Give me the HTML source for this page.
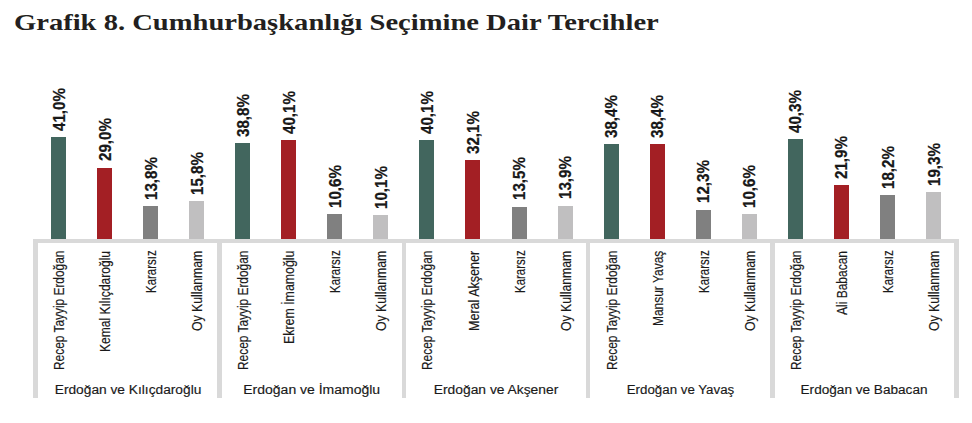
<!DOCTYPE html>
<html><head><meta charset="utf-8"><style>
html,body{margin:0;padding:0;background:#fff;}
body{width:972px;height:423px;position:relative;overflow:hidden;font-family:"Liberation Sans",sans-serif;color:#1a1a1a;}
div{position:absolute;}
.t{left:13.60px;top:9.60px;font-family:"Liberation Serif",serif;font-weight:bold;font-size:24px;color:#231f20;white-space:nowrap;transform-origin:0 0;transform:scaleX(1.19);line-height:1;}
.v{font-weight:bold;font-size:15.0px;white-space:nowrap;transform-origin:0 0;line-height:1;-webkit-text-stroke:0.2px #000;}
.c{font-size:12.2px;white-space:nowrap;transform-origin:0 0;line-height:1;-webkit-text-stroke:0.15px #1a1a1a;}
.g{font-size:12.0px;white-space:nowrap;transform-origin:50% 0;line-height:1;-webkit-text-stroke:0.15px #1a1a1a;}
</style></head><body>
<div class="t">Grafik 8. Cumhurbaşkanlığı Seçimine Dair Tercihler</div>
<div style="left:51.02px;top:137.49px;width:15.00px;height:102.91px;background:#42665e"></div>
<div style="left:97.07px;top:167.61px;width:15.00px;height:72.79px;background:#a31f24"></div>
<div style="left:143.12px;top:205.76px;width:15.00px;height:34.64px;background:#808080"></div>
<div style="left:189.17px;top:200.74px;width:15.00px;height:39.66px;background:#c0bfc0"></div>
<div style="left:235.22px;top:143.01px;width:15.00px;height:97.39px;background:#42665e"></div>
<div style="left:281.27px;top:139.75px;width:15.00px;height:100.65px;background:#a31f24"></div>
<div style="left:327.32px;top:213.79px;width:15.00px;height:26.61px;background:#808080"></div>
<div style="left:373.38px;top:215.05px;width:15.00px;height:25.35px;background:#c0bfc0"></div>
<div style="left:419.42px;top:139.75px;width:15.00px;height:100.65px;background:#42665e"></div>
<div style="left:465.47px;top:159.83px;width:15.00px;height:80.57px;background:#a31f24"></div>
<div style="left:511.52px;top:206.52px;width:15.00px;height:33.88px;background:#808080"></div>
<div style="left:557.57px;top:205.51px;width:15.00px;height:34.89px;background:#c0bfc0"></div>
<div style="left:603.62px;top:144.02px;width:15.00px;height:96.38px;background:#42665e"></div>
<div style="left:649.67px;top:144.02px;width:15.00px;height:96.38px;background:#a31f24"></div>
<div style="left:695.72px;top:209.53px;width:15.00px;height:30.87px;background:#808080"></div>
<div style="left:741.77px;top:213.79px;width:15.00px;height:26.61px;background:#c0bfc0"></div>
<div style="left:787.82px;top:139.25px;width:15.00px;height:101.15px;background:#42665e"></div>
<div style="left:833.88px;top:185.43px;width:15.00px;height:54.97px;background:#a31f24"></div>
<div style="left:879.92px;top:194.72px;width:15.00px;height:45.68px;background:#808080"></div>
<div style="left:925.97px;top:191.96px;width:15.00px;height:48.44px;background:#c0bfc0"></div>
<div style="left:33.25px;top:239.00px;width:925.50px;height:4.00px;background:#d9d9d9"></div>
<div style="left:33.25px;top:239.00px;width:4.50px;height:159.00px;background:#d9d9d9"></div>
<div style="left:217.45px;top:239.00px;width:4.50px;height:159.00px;background:#d9d9d9"></div>
<div style="left:401.65px;top:239.00px;width:4.50px;height:159.00px;background:#d9d9d9"></div>
<div style="left:585.85px;top:239.00px;width:4.50px;height:159.00px;background:#d9d9d9"></div>
<div style="left:770.05px;top:239.00px;width:4.50px;height:159.00px;background:#d9d9d9"></div>
<div style="left:954.25px;top:239.00px;width:4.50px;height:159.00px;background:#d9d9d9"></div>
<div class="v" style="left:49.62px;top:131.29px;transform:rotate(-90deg) scale(1.0110,1.1200)">41,0%</div>
<div class="v" style="left:95.67px;top:161.41px;transform:rotate(-90deg) scale(1.0110,1.1200)">29,0%</div>
<div class="v" style="left:141.72px;top:199.56px;transform:rotate(-90deg) scale(1.0110,1.1200)">13,8%</div>
<div class="v" style="left:187.77px;top:194.54px;transform:rotate(-90deg) scale(1.0110,1.1200)">15,8%</div>
<div class="v" style="left:233.82px;top:136.81px;transform:rotate(-90deg) scale(1.0110,1.1200)">38,8%</div>
<div class="v" style="left:279.88px;top:133.55px;transform:rotate(-90deg) scale(1.0110,1.1200)">40,1%</div>
<div class="v" style="left:325.93px;top:207.59px;transform:rotate(-90deg) scale(1.0110,1.1200)">10,6%</div>
<div class="v" style="left:371.98px;top:208.85px;transform:rotate(-90deg) scale(1.0110,1.1200)">10,1%</div>
<div class="v" style="left:418.02px;top:133.55px;transform:rotate(-90deg) scale(1.0110,1.1200)">40,1%</div>
<div class="v" style="left:464.07px;top:153.63px;transform:rotate(-90deg) scale(1.0110,1.1200)">32,1%</div>
<div class="v" style="left:510.12px;top:200.32px;transform:rotate(-90deg) scale(1.0110,1.1200)">13,5%</div>
<div class="v" style="left:556.17px;top:199.31px;transform:rotate(-90deg) scale(1.0110,1.1200)">13,9%</div>
<div class="v" style="left:602.23px;top:137.82px;transform:rotate(-90deg) scale(1.0110,1.1200)">38,4%</div>
<div class="v" style="left:648.27px;top:137.82px;transform:rotate(-90deg) scale(1.0110,1.1200)">38,4%</div>
<div class="v" style="left:694.32px;top:203.33px;transform:rotate(-90deg) scale(1.0110,1.1200)">12,3%</div>
<div class="v" style="left:740.38px;top:207.59px;transform:rotate(-90deg) scale(1.0110,1.1200)">10,6%</div>
<div class="v" style="left:786.42px;top:133.05px;transform:rotate(-90deg) scale(1.0110,1.1200)">40,3%</div>
<div class="v" style="left:832.48px;top:179.23px;transform:rotate(-90deg) scale(1.0110,1.1200)">21,9%</div>
<div class="v" style="left:878.52px;top:188.52px;transform:rotate(-90deg) scale(1.0110,1.1200)">18,2%</div>
<div class="v" style="left:924.57px;top:185.76px;transform:rotate(-90deg) scale(1.0110,1.1200)">19,3%</div>
<div class="c" style="left:53.07px;top:370.02px;transform:rotate(-90deg) scale(0.9754,1.1400)">Recep Tayyip Erdoğan</div>
<div class="c" style="left:99.12px;top:351.65px;transform:rotate(-90deg) scale(0.9878,1.1400)">Kemal Kılıçdaroğlu</div>
<div class="c" style="left:145.17px;top:293.15px;transform:rotate(-90deg) scale(0.9390,1.1400)">Kararsız</div>
<div class="c" style="left:191.22px;top:330.88px;transform:rotate(-90deg) scale(1.0047,1.1400)">Oy Kullanmam</div>
<div class="c" style="left:237.27px;top:370.02px;transform:rotate(-90deg) scale(0.9754,1.1400)">Recep Tayyip Erdoğan</div>
<div class="c" style="left:283.32px;top:344.10px;transform:rotate(-90deg) scale(1.0151,1.1400)">Ekrem İmamoğlu</div>
<div class="c" style="left:329.37px;top:293.15px;transform:rotate(-90deg) scale(0.9390,1.1400)">Kararsız</div>
<div class="c" style="left:375.42px;top:330.88px;transform:rotate(-90deg) scale(1.0047,1.1400)">Oy Kullanmam</div>
<div class="c" style="left:421.47px;top:370.02px;transform:rotate(-90deg) scale(0.9754,1.1400)">Recep Tayyip Erdoğan</div>
<div class="c" style="left:467.52px;top:330.73px;transform:rotate(-90deg) scale(1.0289,1.1400)">Meral Akşener</div>
<div class="c" style="left:513.57px;top:293.15px;transform:rotate(-90deg) scale(0.9390,1.1400)">Kararsız</div>
<div class="c" style="left:559.62px;top:330.88px;transform:rotate(-90deg) scale(1.0047,1.1400)">Oy Kullanmam</div>
<div class="c" style="left:605.67px;top:370.02px;transform:rotate(-90deg) scale(0.9754,1.1400)">Recep Tayyip Erdoğan</div>
<div class="c" style="left:651.72px;top:325.87px;transform:rotate(-90deg) scale(0.9807,1.1400)">Mansur Yavaş</div>
<div class="c" style="left:697.77px;top:293.15px;transform:rotate(-90deg) scale(0.9390,1.1400)">Kararsız</div>
<div class="c" style="left:743.82px;top:330.88px;transform:rotate(-90deg) scale(1.0047,1.1400)">Oy Kullanmam</div>
<div class="c" style="left:789.87px;top:370.02px;transform:rotate(-90deg) scale(0.9754,1.1400)">Recep Tayyip Erdoğan</div>
<div class="c" style="left:835.92px;top:314.56px;transform:rotate(-90deg) scale(0.9838,1.1400)">Ali Babacan</div>
<div class="c" style="left:881.97px;top:293.15px;transform:rotate(-90deg) scale(0.9390,1.1400)">Kararsız</div>
<div class="c" style="left:928.02px;top:330.88px;transform:rotate(-90deg) scale(1.0047,1.1400)">Oy Kullanmam</div>
<div class="g" style="left:63.56px;top:384.10px;width:128.08px;transform:scaleX(1.1444)">Erdoğan ve Kılıçdaroğlu</div>
<div class="g" style="left:253.10px;top:384.10px;width:117.40px;transform:scaleX(1.1660)">Erdoğan ve İmamoğlu</div>
<div class="g" style="left:441.96px;top:384.10px;width:108.07px;transform:scaleX(1.1519)">Erdoğan ve Akşener</div>
<div class="g" style="left:631.72px;top:384.10px;width:96.96px;transform:scaleX(1.1088)">Erdoğan ve Yavaş</div>
<div class="g" style="left:808.36px;top:384.10px;width:112.08px;transform:scaleX(1.1331)">Erdoğan ve Babacan</div>
</body></html>
